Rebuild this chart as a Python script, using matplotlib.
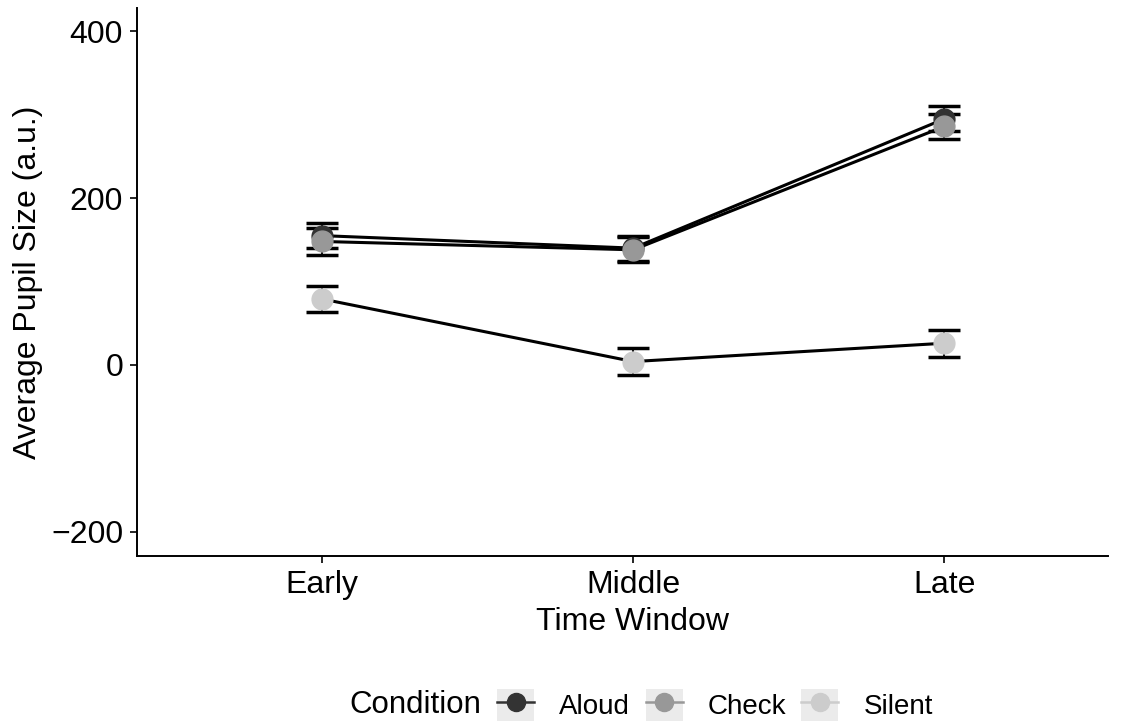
import matplotlib.pyplot as plt
from matplotlib.lines import Line2D
from matplotlib.patches import Patch
from matplotlib.legend_handler import HandlerTuple

plt.rcParams["font.family"] = ["Liberation Sans", "DejaVu Sans"]

windows = ["Early", "Middle", "Late"]
conditions = ["Aloud", "Check", "Silent"]
colors = ["#333333", "#989898", "#CCCCCC"]

means = {
    "Aloud": [155, 140, 295],
    "Check": [148, 138, 286],
    "Silent": [79, 4, 26],
}
errors = {
    "Aloud": [15, 15, 15],
    "Check": [16, 15, 15],
    "Silent": [16, 16, 16],
}

fig = plt.figure(figsize=(11.23, 7.21), dpi=100)
ax = fig.add_axes([0.122, 0.229, 0.865, 0.76])

x = list(range(1, len(windows) + 1))
for cond, col in zip(conditions, colors):
    ax.plot(x, means[cond], color="black", lw=2.2, zorder=2)
    ax.errorbar(x, means[cond], yerr=errors[cond], fmt="none", ecolor="black",
                elinewidth=1.3, capsize=11.5, capthick=2.5, zorder=3)
    ax.plot(x, means[cond], "o", color=col, markersize=15, zorder=4)

ax.set_xlim(0.405, 3.527)
ax.set_ylim(-229, 428)
ax.set_xticks(x)
ax.set_xticklabels(windows)
ax.set_yticks([-200, 0, 200, 400])
ax.set_yticklabels(["\u2212200", "0", "200", "400"])
ax.tick_params(labelsize=23, length=5, width=1.2, colors="black", pad=5)
for s in ["top", "right"]:
    ax.spines[s].set_visible(False)
for s in ["left", "bottom"]:
    ax.spines[s].set_linewidth(1.4)
ax.set_xlabel("Time Window", fontsize=23, labelpad=5, x=0.51)
ax.set_ylabel("Average Pupil Size (a.u.)", fontsize=23, labelpad=6)

handles = [
    (Patch(facecolor="#EBEBEB", edgecolor="none"),
     Line2D([], [], color=c, marker="o", markersize=13, lw=1.8))
    for c in colors
]
fig.text(0.311, 0.022, "Condition", fontsize=22.5, ha="left", va="center")
fig.legend(handles, conditions,
           handler_map={tuple: HandlerTuple(ndivide=1, pad=0)},
           loc="center left", bbox_to_anchor=(0.443, 0.022), ncol=3, frameon=False,
           fontsize=20, handlelength=1.33, handleheight=1.4, columnspacing=0.55,
           handletextpad=0.9, borderaxespad=0, borderpad=0)

fig.savefig("out.png", dpi=100)
